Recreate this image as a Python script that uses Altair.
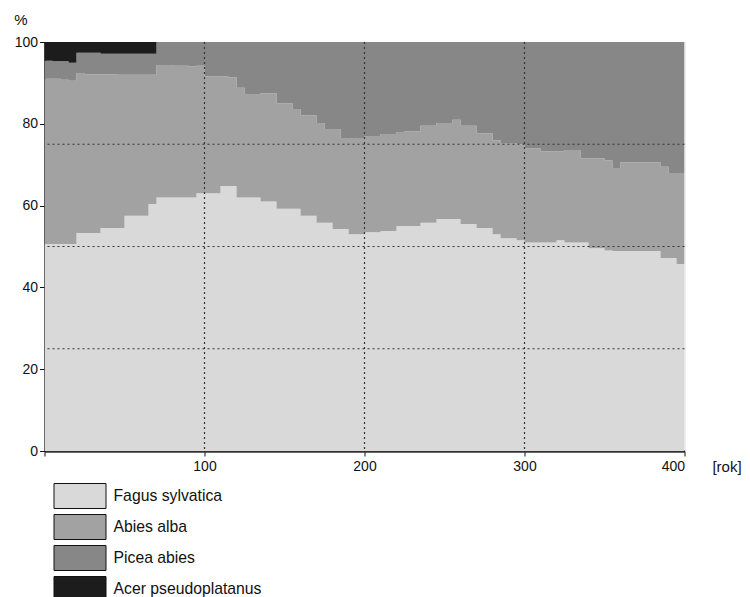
import altair as alt
import pandas as pd

# Years (step every 5 years)
years = list(range(0, 401, 5))

species = ["Fagus sylvatica", "Abies alba", "Picea abies", "Acer pseudoplatanus"]
colors = ["#d9d9d9", "#a2a2a2", "#878787", "#1c1c1c"]

# Share of each species in %
fagus = [
    50.6, 50.6, 50.6, 50.6,          # 0-15
    53.3, 53.3, 53.3,                # 20-30
    54.5, 54.5, 54.5,                # 35-45
    57.5, 57.5, 57.5,                # 50-60
    60.4,                            # 65
    62.0, 62.0, 62.0, 62.0, 62.0,    # 70-90
    63.0, 63.0, 63.0,                # 95-105
    64.8, 64.8,                      # 110-115
    62.0, 62.0, 62.0,                # 120-130
    61.0, 61.0,                      # 135-140
    59.2, 59.2, 59.2,                # 145-155
    57.5, 57.5,                      # 160-165
    55.8, 55.8,                      # 170-175
    54.3, 54.3,                      # 180-185
    53.0, 53.0,                      # 190-195
    53.5, 53.5,                      # 200-205
    53.8, 53.8,                      # 210-215
    55.0, 55.0, 55.0,                # 220-230
    55.8, 55.8,                      # 235-240
    56.7, 56.7, 56.7,                # 245-255
    55.5, 55.5,                      # 260-265
    54.5, 54.5,                      # 270-275
    53.0,                            # 280
    52.0, 52.0,                      # 285-290
    51.5,                            # 295
    51.0, 51.0, 51.0, 51.0,          # 300-315
    51.5,                            # 320
    51.0, 51.0, 51.0,                # 325-335
    49.6, 49.6,                      # 340-345
    49.0,                            # 350
    48.9, 48.9, 48.9, 48.9, 48.9, 48.9,  # 355-380
    47.2, 47.2,                      # 385-390
    45.7, 45.7,                      # 395-400
]

abies = [
    40.4, 40.4, 40.2, 39.9, 39.1, 38.8, 38.8, 37.6, 37.6, 37.5,   # 0-45
    34.5, 34.5, 34.5, 31.6, 32.4, 32.4, 32.2, 32.2, 32.0, 31.2,   # 50-95
    28.6, 28.6, 26.8, 26.6, 26.8, 25.3, 25.3, 26.5, 26.5, 25.8,   # 100-145
    25.8, 24.4, 24.5, 24.5, 24.4, 22.9, 24.4, 22.2, 23.5, 23.5,   # 150-195
    23.5, 23.5, 23.7, 23.7, 23.0, 23.2, 23.2, 23.7, 23.7, 23.5,   # 200-245
    23.5, 24.3, 24.0, 24.0, 23.2, 23.2, 23.0, 23.3, 23.3, 23.5,   # 250-295
    23.0, 23.0, 22.3, 22.3, 21.8, 22.6, 22.6, 20.6, 22.0, 22.0,   # 300-345
    22.0, 20.3, 21.7, 21.7, 21.7, 21.7, 21.7, 22.3, 20.8, 22.3,   # 350-395
    22.3,                                                         # 400
]

picea = [
    4.4, 4.3, 4.5, 4.4, 5.0, 5.3, 5.3, 5.0, 5.0, 5.1,             # 0-45
    5.1, 5.1, 5.1, 5.1, 5.6, 5.6, 5.8, 5.8, 6.0, 5.8,             # 50-95
    8.4, 8.4, 8.4, 8.6, 11.2, 12.7, 12.7, 12.5, 12.5, 15.0,       # 100-145
    15.0, 16.4, 18.0, 18.0, 19.8, 21.3, 21.3, 23.5, 23.5, 23.5,   # 150-195
    23.0, 23.0, 22.5, 22.5, 22.0, 21.8, 21.8, 20.5, 20.5, 19.8,   # 200-245
    19.8, 19.0, 20.5, 20.5, 22.3, 22.3, 24.0, 24.7, 24.7, 25.0,   # 250-295
    26.0, 26.0, 26.7, 26.7, 26.7, 26.4, 26.4, 28.4, 28.4, 28.4,   # 300-345
    29.0, 30.8, 29.4, 29.4, 29.4, 29.4, 29.4, 30.5, 32.0, 32.0,   # 350-395
    32.0,                                                         # 400
]

acer = [
    4.6, 4.7, 4.7, 5.1, 2.6, 2.6, 2.6, 2.9, 2.9, 2.9,             # 0-45
    2.9, 2.9, 2.9, 2.9, 0, 0, 0, 0, 0, 0,                         # 50-95
] + [0] * 61                                                      # 100-400

assert len(fagus) == len(abies) == len(picea) == len(acer) == len(years)

y_ticks = [0, 20, 40, 60, 80, 100]
x_ticks = [0, 100, 200, 300, 400]
h_grid = [25, 50, 75]
v_grid = [100, 200, 300]

rows = []
for i, yr in enumerate(years):
    for k, (name, vals) in enumerate(zip(species, [fagus, abies, picea, acer])):
        rows.append({"year": yr, "species": name, "share": vals[i], "order": k})
df = pd.DataFrame(rows)

FONT = "Liberation Sans"
W, H = 640, 409

x_scale = alt.Scale(domain=[0, 400], nice=False, zero=False)
y_scale = alt.Scale(domain=[0, 100], nice=False)

area = alt.Chart(df).mark_area(interpolate="step-after", opacity=1, clip=True).encode(
    x=alt.X("year:Q", scale=x_scale,
            axis=alt.Axis(values=x_ticks, grid=False,
                          labelExpr="datum.value == 0 ? '' : datum.label",
                          labelFont=FONT, labelFontSize=14, labelColor="#111",
                          labelPadding=3, tickSize=5, tickColor="#111",
                          domainColor="#333", domainWidth=2.5,
                          title="[rok]", titleFont=FONT, titleFontSize=15,
                          titleFontWeight="normal", titleColor="#111",
                          titleX=682, titleY=15, titleAlign="center",
                          titleBaseline="middle")),
    y=alt.Y("share:Q", stack="zero", scale=y_scale,
            axis=alt.Axis(values=y_ticks, grid=False,
                          labelFont=FONT, labelFontSize=14, labelColor="#111",
                          labelPadding=2, tickSize=5, tickColor="#111",
                          domainColor="#111", domainWidth=1.5,
                          title="%", titleAngle=0, titleFont=FONT, titleFontSize=15,
                          titleFontWeight="normal", titleColor="#111",
                          titleX=-24, titleY=-23, titleAlign="center",
                          titleBaseline="middle")),
    color=alt.Color("species:N",
                    scale=alt.Scale(domain=species, range=colors),
                    legend=alt.Legend(orient="none", legendX=22.5, legendY=441,
                                      title=None, padding=0,
                                      symbolType="M-2.08,-1H2.08V1H-2.08Z",
                                      symbolSize=625, symbolStrokeColor="#111",
                                      symbolStrokeWidth=1, symbolOpacity=1,
                                      labelFont=FONT, labelFontSize=15.75,
                                      labelColor="#111", labelOffset=20.5,
                                      rowPadding=1)),
    order=alt.Order("order:Q", sort="ascending"),
)

hgrid = alt.Chart(pd.DataFrame({"v": h_grid})).mark_rule(
    color="#333", strokeDash=[2, 3], strokeWidth=1.2
).encode(y=alt.Y("v:Q", scale=y_scale))

vgrid = alt.Chart(pd.DataFrame({"v": v_grid})).mark_rule(
    color="#333", strokeDash=[2, 3], strokeWidth=1.2
).encode(x=alt.X("v:Q", scale=x_scale))

chart = alt.layer(area, hgrid, vgrid).properties(
    width=W, height=H,
    padding={"left": 5.5, "top": 4, "right": 0, "bottom": 0},
).configure_view(
    stroke="#333", strokeWidth=1.5
).configure(background="white")

chart.save("out.html", embed_options={"renderer": "svg", "actions": False})
